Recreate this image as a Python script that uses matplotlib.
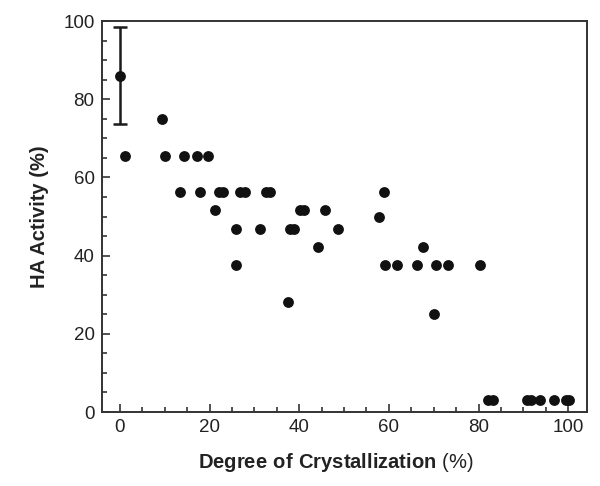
import matplotlib
matplotlib.use("Agg")
import matplotlib.pyplot as plt
from matplotlib.ticker import MultipleLocator

plt.rcParams['font.family'] = ['Liberation Sans', 'DejaVu Sans']
plt.rcParams['mathtext.fontset'] = 'custom'
plt.rcParams['mathtext.bf'] = 'Liberation Sans:bold'
plt.rcParams['mathtext.rm'] = 'Liberation Sans'

# Data
crystallization = [0.0, 1.1, 9.3, 10.1, 13.5, 14.3, 17.1, 17.9, 19.6, 21.2,
                   22.0, 23.1, 26.0, 26.0, 26.9, 27.8, 31.3, 32.6, 33.4, 37.6,
                   38.0, 38.8, 40.2, 41.1, 44.3, 45.7, 48.7, 57.8, 59.0, 59.2,
                   61.9, 66.2, 67.6, 70.1, 70.6, 73.2, 80.4, 82.2, 83.2, 90.8,
                   91.7, 93.8, 96.9, 99.5, 100.1]
ha_activity = [86.0, 65.6, 75.0, 65.6, 56.3, 65.6, 65.6, 56.3, 65.6, 51.6,
               56.3, 56.3, 46.9, 37.5, 56.3, 56.3, 46.9, 56.3, 56.3, 28.1,
               46.9, 46.9, 51.6, 51.6, 42.2, 51.6, 46.9, 50.0, 56.3, 37.5,
               37.5, 37.5, 42.2, 25.0, 37.5, 37.5, 37.5, 3.1, 3.1, 3.1,
               3.1, 3.1, 3.1, 3.1, 3.1]
err_x = [0.0]
err_y = [86.0]
err_val = [12.4]

x_ticks = [0, 20, 40, 60, 80, 100]
y_ticks = [0, 20, 40, 60, 80, 100]

fig = plt.figure(figsize=(6.0, 4.86), dpi=100)
ax = fig.add_axes([101.5/600, 1-412/486, (587-101.5)/600, (412-21)/486])

ax.errorbar(err_x, err_y, yerr=err_val, fmt='none', ecolor='#1a1a1a',
            elinewidth=1.8, capsize=5, capthick=1.8, zorder=2)
ax.plot(crystallization, ha_activity, 'o', color='#111111', markersize=7.8,
        markeredgewidth=0, zorder=3)

ax.set_xlim(-4.1, 104.2)
ax.set_ylim(0, 100)
ax.set_xticks(x_ticks)
ax.set_yticks(y_ticks)
ax.xaxis.set_minor_locator(MultipleLocator(5))
ax.yaxis.set_minor_locator(MultipleLocator(5))
ax.tick_params(which='both', direction='in', top=False, right=False,
               color='#333333', width=1.2)
ax.tick_params(which='major', length=6, labelsize=13.5, labelcolor='#222222', pad=5)
ax.tick_params(which='minor', length=3.5)
for s in ax.spines.values():
    s.set_linewidth(1.4)
    s.set_color('#333333')

ax.set_xlabel(r"$\mathbf{Degree\ of\ Crystallization}$ (%)", fontsize=14.5,
              color='#222222')
ax.xaxis.set_label_coords(0.482, -0.1)
ax.set_ylabel("HA Activity (%)", fontsize=14.5, fontweight='bold',
              color='#222222', labelpad=10)

fig.savefig("out.png", dpi=100)
